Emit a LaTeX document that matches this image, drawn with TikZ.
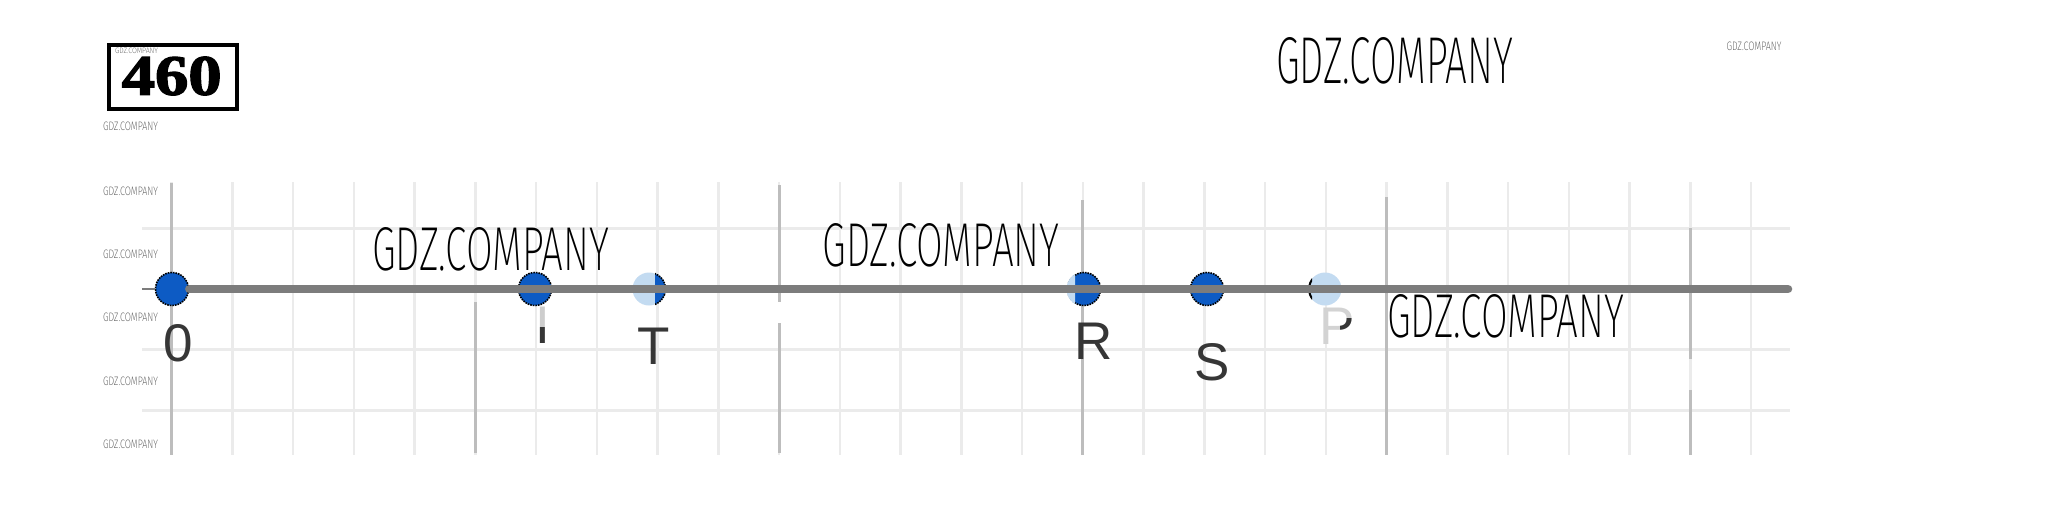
\documentclass[tikz,border=0pt]{standalone}
\usepackage{graphicx}
\usepackage{fontspec}
\newfontfamily\lblfont{Liberation Sans}
\newfontfamily\numfont{Liberation Serif}[BoldFeatures={FakeBold=2.2}]
\newfontfamily\wmfont{Fira Sans ExtraLight}
\definecolor{ptblue}{HTML}{0D5BC4}
\definecolor{ptlight}{HTML}{C3DBF1}
\definecolor{axisgray}{HTML}{7C7C7C}
\definecolor{majorgray}{HTML}{BDBDBD}
\definecolor{minorgray}{HTML}{EBEBEB}
\definecolor{lblgray}{HTML}{363636}
\definecolor{wmgray}{HTML}{4F4F4F}
\newcommand\wmbig[1]{\resizebox{237pt}{#1}{\wmfont GDZ.COMPANY}}
\newcommand\wmsmall{\resizebox{55pt}{8.5pt}{\wmfont GDZ.COMPANY}}
\begin{document}
\begin{tikzpicture}[x=1pt,y=-1pt,
  minorline/.style={draw=minorgray, line width=2.5pt},
  majorline/.style={draw=majorgray, line width=3pt},
  hline/.style={draw=minorgray, line width=3pt},
  axisline/.style={draw=axisgray, line width=8.5pt, line cap=round},
  ptdark/.style={circle, minimum size=33pt, inner sep=0pt, fill=ptblue, draw=black, densely dotted, line width=1.6pt},
  ptpale/.style={circle, minimum size=33pt, inner sep=0pt, fill=ptlight},
  lbl/.style={font=\lblfont\fontsize{53}{53}\selectfont, text=lblgray, inner sep=0pt},
  wm/.style={inner sep=0pt, text=black},
  wms/.style={inner sep=0pt, text=wmgray}]
\useasboundingbox (0,0) rectangle (2070,507);
\fill[white] (0,0) rectangle (2070,507);
% grid
\foreach \k in {0,...,26} \draw[minorline] ({171.6+60.75*\k},182) -- ({171.6+60.75*\k},455);
\foreach \y in {228.25,349.75,410.5} \draw[hline] (142,\y) -- (1790,\y);
\draw[majorline] (171.6,183) -- (171.6,455);
\draw[majorline] (475.35,302) -- (475.35,453);
\fill[white] (777,302) rectangle (781.2,323);
\draw[majorline] (779.1,185) -- (779.1,302);
\draw[majorline] (779.1,323) -- (779.1,453);
\draw[majorline] (1082.85,200) -- (1082.85,455);
\draw[majorline] (1386.6,197) -- (1386.6,455);
\draw[majorline] (1690.35,228) -- (1690.35,359);
\draw[majorline] (1690.35,390) -- (1690.35,455);
% points
\node[ptdark] (O) at (172,289) {};
\node[ptdark] (I) at (535,289) {};
\node[ptpale] (T) at (649,289) {};
\begin{scope}
  \clip (655,260) rectangle (680,320);
  \fill[ptblue] (T.center) circle (16.5);
  \draw[black, densely dotted, line width=1.6pt] (T.center) circle (16.5);
\end{scope}
\node[ptdark] (R) at (1084,289) {};
\begin{scope}
  \clip (1060,260) rectangle (1075,320);
  \fill[ptlight] (R.center) circle (17.5);
\end{scope}
\node[ptdark] (S) at (1207,289) {};
\node[ptpale] (P) at (1325,289) {};
\begin{scope}
  \clip (1300,260) rectangle (1312,320);
  \draw[black, line width=2pt] (P.center) circle (16);
\end{scope}
% axis
\coordinate (axL) at (142,289);
\coordinate (axR) at (1788,289);
\draw[axisgray, line width=2pt] (axL) -- (O.west);
\draw[axisline] (O.east) -- (axR);
% labels
\node[lbl] (l0) at (178,343.5) {0};
\node[lbl, text=lblgray!25] (lI) at (543,325) {I};
\begin{scope}
  \clip (520,327) rectangle (570,352);
  \node[lbl] at (lI) {I};
\end{scope}
\node[lbl] (lT) at (654,346.5) {T};
\node[lbl] (lR) at (1094,341) {R};
\node[lbl] (lS) at (1212,362.5) {S};
\node[lbl, text=lblgray!22] (lP) at (1337,326) {P};
\begin{scope}
  \clip (1340,318) rectangle (1354,330);
  \node[lbl] at (lP) {P};
\end{scope}
% number box
\node[draw=black, line width=4pt, minimum width=128pt, minimum height=64pt, inner sep=0pt] (box) at (173,77) {};
\node[inner sep=0pt] (num) at (171.7,76) {\resizebox{100pt}{38pt}{\numfont\bfseries 460}};
\node[wms] (tiny) at (136.5,51) {\resizebox{43pt}{5.5pt}{\wmfont GDZ.COMPANY}};
% small watermarks
\node[wms] (w0) at (130.5,126) {\wmsmall};
\node[wms] (w1) at (130.5,191) {\wmsmall};
\node[wms] (w2) at (130.5,254) {\wmsmall};
\node[wms] (w3) at (130.5,317.5) {\wmsmall};
\node[wms] (w4) at (130.5,381) {\wmsmall};
\node[wms] (w5) at (130.5,444) {\wmsmall};
\node[wms] (w6) at (1754,46) {\wmsmall};
% big watermarks
\node[wm] (b0) at (1394.5,61) {\wmbig{46pt}};
\node[wm] (b1) at (490.5,249.5) {\wmbig{43pt}};
\node[wm] (b2) at (941,245) {\wmbig{43pt}};
\node[wm] (b3) at (1505.5,316.5) {\wmbig{43pt}};
\end{tikzpicture}
\end{document}
